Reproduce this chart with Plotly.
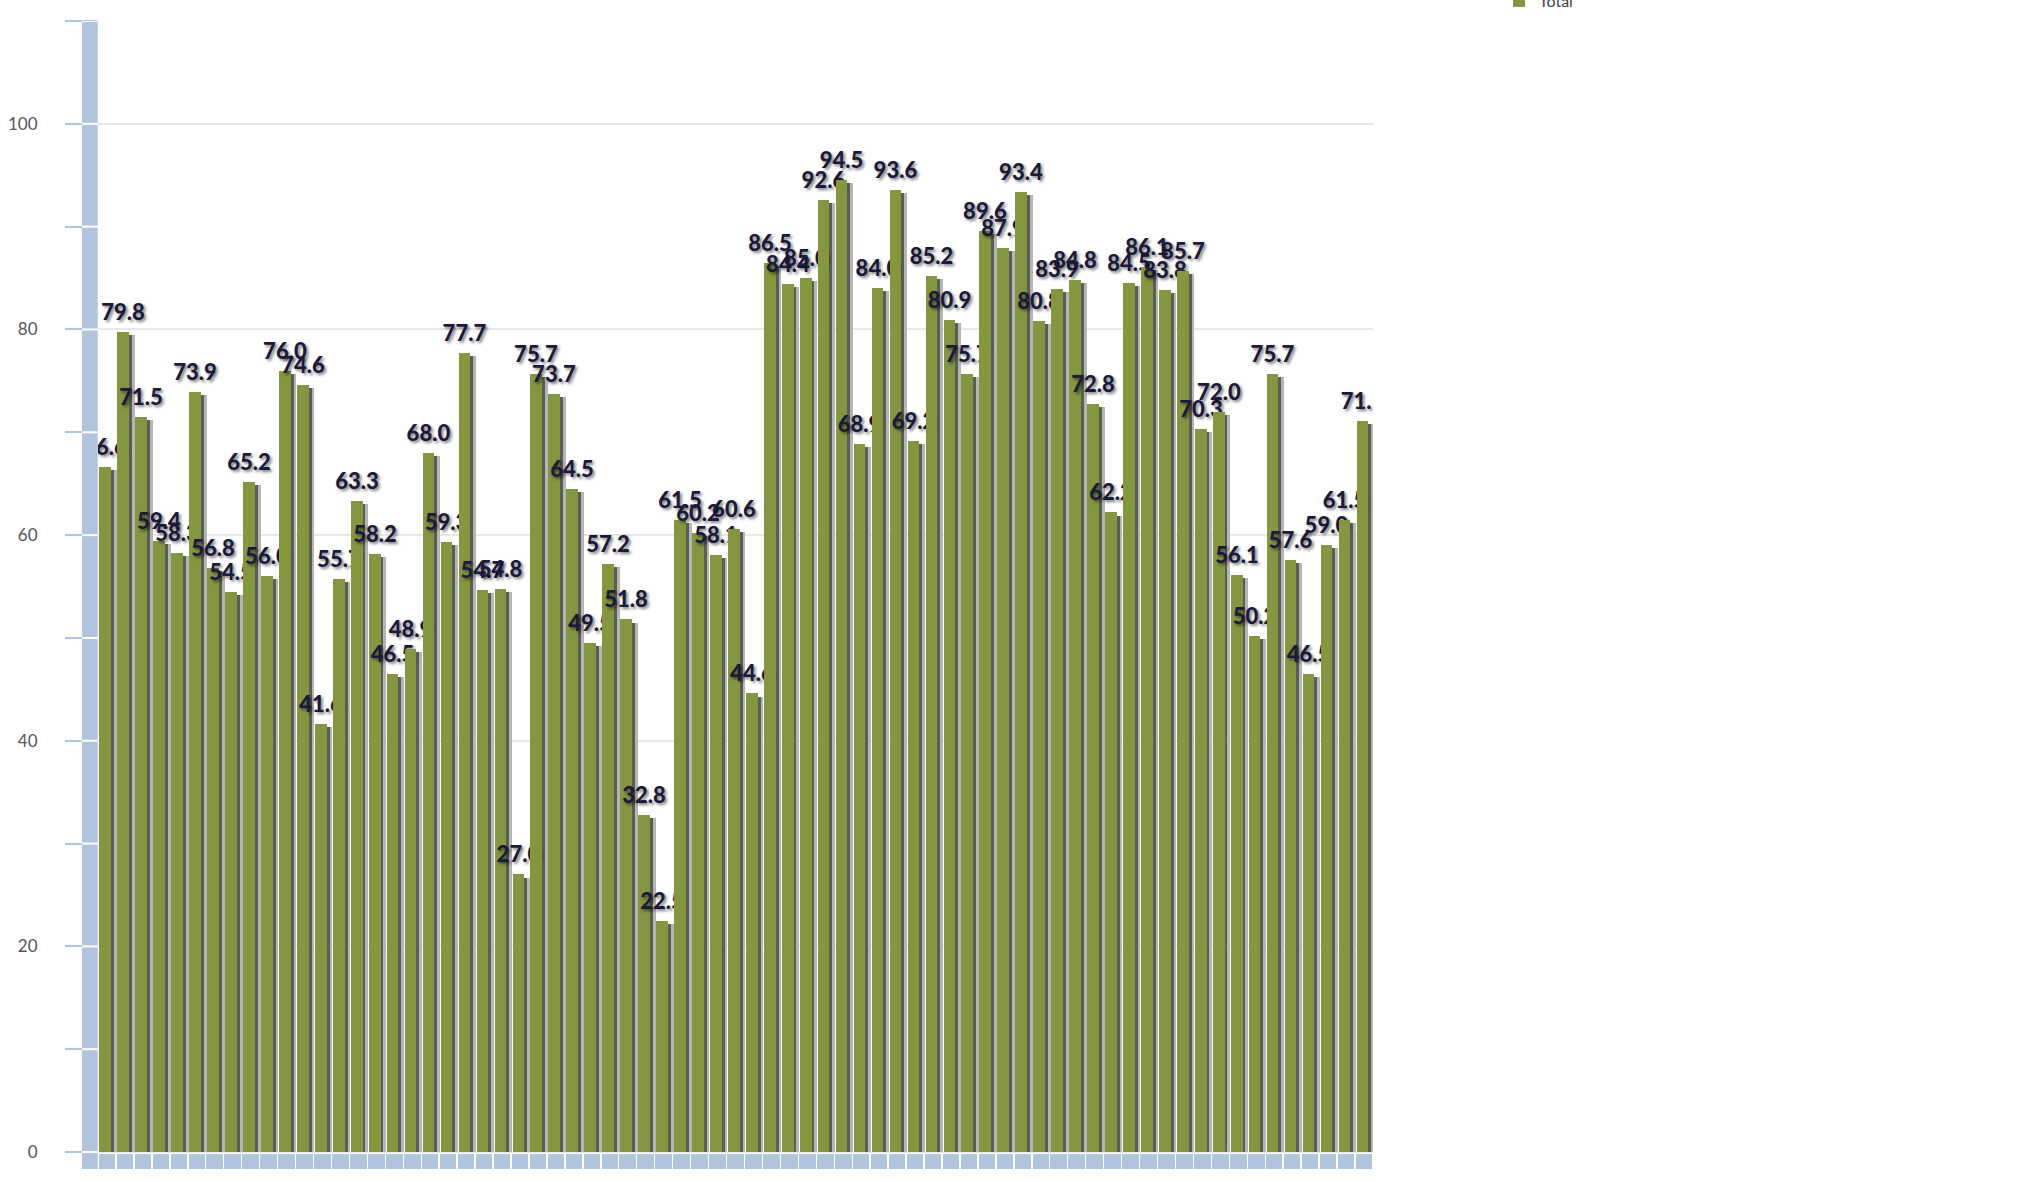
import plotly.graph_objects as go

# ---- data -------------------------------------------------------------
values = [
    66.6, 79.8, 71.5, 59.4, 58.3, 73.9, 56.8, 54.5, 65.2, 56.0,
    76.0, 74.6, 41.6, 55.7, 63.3, 58.2, 46.5, 48.9, 68.0, 59.3,
    77.7, 54.7, 54.8, 27.0, 75.7, 73.7, 64.5, 49.5, 57.2, 51.8,
    32.8, 22.5, 61.5, 60.2, 58.1, 60.6, 44.6, 86.5, 84.4, 85.0,
    92.6, 94.5, 68.9, 84.0, 93.6, 69.2, 85.2, 80.9, 75.7, 89.6,
    87.9, 93.4, 80.8, 83.9, 84.8, 72.8, 62.2, 84.5, 86.1, 83.8,
    85.7, 70.3, 72.0, 56.1, 50.2, 75.7, 57.6, 46.5, 59.0, 61.5,
    71.1,
]
positions = list(range(len(values)))
series_name = "Total"

y_tick_vals = [0, 20, 40, 60, 80, 100, 110]
y_tick_text = ["0", "20", "40", "60", "80", "100", ""]
y_minor_vals = [10, 30, 50, 70, 90]
wall_breaks = [0, 10, 20, 30, 40, 50, 60, 70, 80, 90, 100, 110]

# ---- style ------------------------------------------------------------
GREEN = "#84973F"
WALL = "#B0C4DE"
Y_MIN, Y_MAX = -1.65, 110
W, H = 2020, 1182
ML, MT, MB = 98, 21, 13
PLOT_W = 1275
MR = W - ML - PLOT_W
PLOT_H = H - MT - MB

LABEL_SIZE = 22
# label: big first line + tiny second line to lift it a little off the bar
labels = [
    f"<span style='font-size:{LABEL_SIZE}px'>{v:.1f}</span><br>\u00a0" for v in values
]

n = len(values)
fig = go.Figure()

# floor blocks (3D base strip)
fig.add_bar(
    x=positions, y=[1.5] * n, base=-1.65, width=0.92, offset=-0.46,
    marker=dict(color=WALL, line=dict(width=0)),
    hoverinfo="skip", showlegend=False,
)
# soft shadow (light)
fig.add_bar(
    x=positions, y=[v - 0.3 for v in values], offset=0.36, width=0.19,
    marker=dict(color="#b5b5b5", line=dict(width=0)),
    hoverinfo="skip", showlegend=False,
)
# shadow (dark)
fig.add_bar(
    x=positions, y=[v - 0.3 for v in values], offset=0.225, width=0.17,
    marker=dict(color="#5d5d57", line=dict(width=0)),
    hoverinfo="skip", showlegend=False,
)
# main bars with labels
fig.add_bar(
    x=positions, y=values, offset=-0.417, width=0.65, name=series_name,
    marker=dict(color=GREEN, line=dict(width=0, color="#1f2d4a")),
    text=labels,
    textposition="outside", textangle=0, constraintext="none", cliponaxis=True,
    textfont=dict(family="Lato", size=6, color="#1a1a3c", weight=900,
                  shadow="2px 2px 3px rgba(0,0,0,0.5)"),
    hovertemplate="%{y:.1f}<extra></extra>",
    showlegend=True,
)

# left wall with breaks at every tick
wx0 = -16 / PLOT_W
fig.add_shape(type="rect", xref="paper", yref="y", x0=wx0, x1=-0.0002,
              y0=Y_MIN, y1=Y_MAX, fillcolor=WALL, line_width=0, layer="above")
for b in wall_breaks:
    fig.add_shape(type="line", xref="paper", yref="y", x0=wx0, x1=-0.0002,
                  y0=b, y1=b, line=dict(color="white", width=2), layer="above")

fig.update_layout(
    width=W, height=H,
    barmode="overlay", bargap=0,
    margin=dict(l=ML, r=MR, t=MT, b=MB, autoexpand=False),
    plot_bgcolor="white", paper_bgcolor="white",
    xaxis=dict(range=[-0.5, n - 0.5], showticklabels=False, showgrid=False,
               zeroline=False, ticks="", showline=False),
    yaxis=dict(
        range=[Y_MIN, Y_MAX], tickmode="array", tickvals=y_tick_vals, ticktext=y_tick_text,
        ticks="outside", ticklen=32, tickwidth=2, tickcolor=WALL,
        gridcolor="#e8e8e8", gridwidth=2, zeroline=False, showline=False,
        tickfont=dict(family="Lato", size=17, color="#555555"),
        ticklabelstandoff=24,
        minor=dict(tickvals=y_minor_vals, ticks="outside", ticklen=32, tickwidth=2,
                   tickcolor=WALL, showgrid=False),
    ),
    legend=dict(x=(1499 - ML) / PLOT_W, y=(H - MB - 1) / PLOT_H, xanchor="left",
                yanchor="middle", font=dict(family="Lato", size=16, color="#444444"),
                bgcolor="rgba(0,0,0,0)"),
    showlegend=True,
)

fig.write_html("out.html", config={"displayModeBar": False},
               post_script="document.body.style.margin='0';")
